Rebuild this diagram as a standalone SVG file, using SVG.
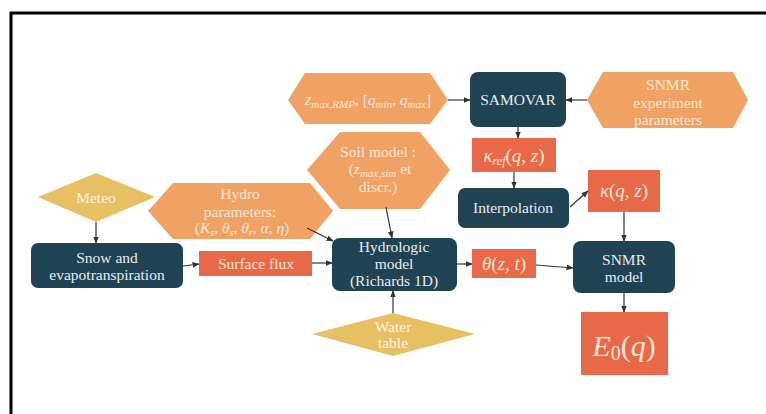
<svg xmlns="http://www.w3.org/2000/svg" width="766" height="414" viewBox="0 0 766 414" font-family="'Liberation Serif', 'Times New Roman', serif" font-size="15.5">
<defs>
<marker id="ah" viewBox="0 0 10 10" refX="9" refY="5" markerWidth="6" markerHeight="6" orient="auto-start-reverse">
<path d="M0,1 L10,5 L0,9 z" fill="#333"/>
</marker>
<style>
.dark{fill:#1f4352;}
.hex{fill:#f0a264;}
.red{fill:#e8694a;}
.gold{fill:#e8c064;}
text{text-anchor:middle;}
.tl{fill:#e6edf0;}
.th{fill:#fde8d4;}
.tg{fill:#fdf2e2;}
.m{font-style:italic;}
.c{stroke:#333;stroke-width:1.2;fill:none;marker-end:url(#ah);}
</style>
</defs>
<rect width="766" height="414" fill="#fff"/>
<path d="M11,414 L11,13 L766,13" fill="none" stroke="#000" stroke-width="3"/>

<g id="zmax">
<polygon class="hex" points="288,100 305,73 430,73 448,100 430,124 305,124"/>
<text class="th" x="368" y="105"><tspan class="m" font-size="16">z</tspan><tspan class="m" font-size="11" dy="3">max,RMP</tspan><tspan dy="-3">, [</tspan><tspan class="m">q</tspan><tspan class="m" font-size="11" dy="3">min</tspan><tspan dy="-3">, </tspan><tspan class="m">q</tspan><tspan class="m" font-size="11" dy="3">max</tspan><tspan dy="-3">]</tspan></text>
</g>
<g id="samovar">
<rect class="dark" x="470" y="72" width="96" height="55" rx="8"/>
<text class="tl" x="518" y="105">SAMOVAR</text>
</g>
<g id="snmrexp">
<polygon class="hex" points="587,100 603,72 733,72 748,100 733,128 603,128"/>
<text class="th" x="668" y="90">SNMR</text>
<text class="th" x="668" y="108">experiment</text>
<text class="th" x="668" y="125">parameters</text>
</g>
<g id="kref">
<rect class="red" x="472" y="138" width="84" height="34"/>
<text class="th" x="514" y="162" font-size="19"><tspan class="m">κ</tspan><tspan class="m" font-size="12" dy="3">ref</tspan><tspan dy="-3">(</tspan><tspan class="m">q</tspan>, <tspan class="m">z</tspan>)</text>
</g>
<g id="interp">
<rect class="dark" x="458" y="188" width="111" height="40" rx="7"/>
<text class="tl" x="513" y="213">Interpolation</text>
</g>
<g id="kappa">
<rect class="red" x="588" y="170" width="72" height="42"/>
<text class="th" x="624" y="197" font-size="19"><tspan class="m">κ</tspan>(<tspan class="m">q</tspan>, <tspan class="m">z</tspan>)</text>
</g>
<g id="snmrmodel">
<rect class="dark" x="573" y="241" width="102" height="52" rx="8"/>
<text class="tl" x="624" y="265">SNMR</text>
<text class="tl" x="624" y="282">model</text>
</g>
<g id="e0">
<rect class="red" x="581" y="312" width="87" height="63"/>
<text class="th" x="624" y="356" font-size="30"><tspan class="m">E</tspan><tspan font-size="20" dy="4">0</tspan><tspan dy="-4">(</tspan><tspan class="m">q</tspan>)</text>
</g>
<g id="meteo">
<polygon class="gold" points="38,197 96,173 155,197 96,222"/>
<text class="tg" x="96" y="203">Meteo</text>
</g>
<g id="hydro">
<polygon class="hex" points="148,211 173,183 310,183 333,211 310,239 173,239"/>
<text class="th" x="240" y="199">Hydro</text>
<text class="th" x="240" y="217">parameters:</text>
<text class="th" x="242" y="233">(<tspan class="m">K</tspan><tspan class="m" font-size="10" dy="3">s</tspan><tspan dy="-3">, </tspan><tspan class="m">θ</tspan><tspan class="m" font-size="10" dy="3">s</tspan><tspan dy="-3">, </tspan><tspan class="m">θ</tspan><tspan class="m" font-size="10" dy="3">r</tspan><tspan dy="-3">, </tspan><tspan class="m">α</tspan>, <tspan class="m">η</tspan>)</text>
</g>
<g id="soil">
<polygon class="hex" points="307,170 340,132 420,132 450,170 420,209 340,209"/>
<text class="th" x="378" y="157">Soil model :</text>
<text class="th" x="380" y="174">(<tspan class="m">z</tspan><tspan class="m" font-size="11" dy="3">max,sim</tspan><tspan dy="-3"> et</tspan></text>
<text class="th" x="378" y="192">discr.)</text>
</g>
<g id="snow">
<rect class="dark" x="31" y="243" width="152" height="45" rx="7"/>
<text class="tl" x="107" y="263">Snow and</text>
<text class="tl" x="107" y="280">evapotranspiration</text>
</g>
<g id="surface">
<rect class="red" x="199" y="251" width="113" height="25"/>
<text class="th" x="256" y="269">Surface flux</text>
</g>
<g id="hydrologic">
<rect class="dark" x="332" y="238" width="125" height="53" rx="8"/>
<text class="tl" x="394" y="252">Hydrologic</text>
<text class="tl" x="394" y="269">model</text>
<text class="tl" x="394" y="286">(Richards 1D)</text>
</g>
<g id="theta">
<rect class="red" x="472" y="249" width="64" height="29"/>
<text class="th" x="504" y="270" font-size="19"><tspan class="m">θ</tspan>(<tspan class="m">z</tspan>, <tspan class="m">t</tspan>)</text>
</g>
<g id="water">
<polygon class="gold" points="312,334 393,313 475,334 393,356"/>
<text class="tg" x="393" y="332">Water</text>
<text class="tg" x="393" y="348">table</text>
</g>

<g id="connectors">
<line class="c" x1="448" y1="100" x2="470" y2="100"/>
<line class="c" x1="587" y1="100" x2="566" y2="100"/>
<line class="c" x1="518" y1="127" x2="518" y2="138"/>
<line class="c" x1="514" y1="172" x2="514" y2="188"/>
<line class="c" x1="570" y1="207" x2="588" y2="191"/>
<line class="c" x1="624" y1="212" x2="624" y2="241"/>
<line class="c" x1="624" y1="293" x2="624" y2="312"/>
<line class="c" x1="96" y1="222" x2="96" y2="243"/>
<line class="c" x1="183" y1="266" x2="199" y2="264"/>
<line class="c" x1="312" y1="263" x2="332" y2="263"/>
<line class="c" x1="307" y1="228" x2="333" y2="241"/>
<line class="c" x1="386" y1="207" x2="392" y2="238"/>
<line class="c" x1="393" y1="313" x2="393" y2="291"/>
<line class="c" x1="457" y1="264" x2="472" y2="264"/>
<line class="c" x1="536" y1="265" x2="573" y2="268"/>
</g>
</svg>
